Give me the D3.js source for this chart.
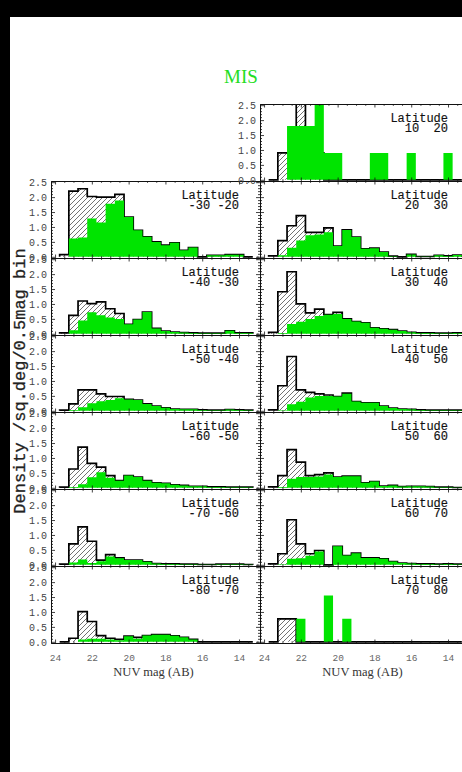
<!DOCTYPE html>
<html>
<head>
<meta charset="utf-8">
<script src="https://cdn.jsdelivr.net/npm/d3@7"></script>
<style>
  html, body { margin: 0; padding: 0; background: #fff; overflow: hidden; }
  svg { display: block; }
</style>
</head>
<body>
<svg id="chart" width="462" height="772"></svg>
<script>
// NUV magnitude bins (0.5 mag wide), bright end last
const magBins = [23.5, 23.0, 22.5, 22.0, 21.5, 21.0, 20.5, 20.0, 19.5, 19.0, 18.5,
                 18.0, 17.5, 17.0, 16.5, 16.0, 15.5, 15.0, 14.5, 14.0, 13.5];
const xTickLabels = [24, 22, 20, 18, 16, 14];
const yTickLabels = [0.0, 0.5, 1.0, 1.5, 2.0, 2.5];

// Southern latitude strips (left column)
const totS30 = [0.07, 2.20, 2.28, 2.02, 2.00, 2.00, 2.09, 1.33, 0.89, 0.67, 0.50, 0.39, 0.47, 0.22, 0.31, 0.00, 0.05, 0.05, 0.07, 0.07, 0.00];
const misS30 = [0.00, 0.61, 0.65, 1.28, 1.15, 1.78, 1.89, 1.33, 0.89, 0.67, 0.50, 0.39, 0.47, 0.22, 0.31, 0.00, 0.05, 0.05, 0.07, 0.07, 0.00];
const totS40 = [0.03, 0.62, 1.10, 1.01, 1.07, 0.84, 0.68, 0.32, 0.48, 0.73, 0.18, 0.09, 0.06, 0.04, 0.03, 0.02, 0.02, 0.02, 0.10, 0.03, 0.03];
const misS40 = [0.00, 0.12, 0.45, 0.72, 0.62, 0.55, 0.50, 0.32, 0.48, 0.73, 0.18, 0.09, 0.06, 0.04, 0.03, 0.02, 0.02, 0.02, 0.10, 0.03, 0.03];
const totS50 = [0.02, 0.23, 0.70, 0.70, 0.57, 0.48, 0.48, 0.38, 0.36, 0.23, 0.16, 0.10, 0.06, 0.05, 0.05, 0.03, 0.02, 0.02, 0.04, 0.03, 0.02];
const misS50 = [0.00, 0.03, 0.12, 0.25, 0.32, 0.36, 0.42, 0.38, 0.36, 0.23, 0.16, 0.10, 0.06, 0.05, 0.05, 0.03, 0.02, 0.02, 0.04, 0.03, 0.02];
const totS60 = [0.02, 0.63, 1.36, 0.82, 0.69, 0.41, 0.24, 0.41, 0.36, 0.24, 0.17, 0.15, 0.10, 0.08, 0.05, 0.05, 0.03, 0.03, 0.02, 0.02, 0.02];
const misS60 = [0.00, 0.03, 0.12, 0.35, 0.52, 0.34, 0.24, 0.41, 0.36, 0.24, 0.17, 0.15, 0.10, 0.08, 0.05, 0.05, 0.03, 0.03, 0.02, 0.02, 0.02];
const totS70 = [0.02, 0.70, 1.27, 0.79, 0.16, 0.34, 0.23, 0.16, 0.16, 0.10, 0.04, 0.03, 0.03, 0.02, 0.02, 0.01, 0.01, 0.02, 0.02, 0.02, 0.01];
const misS70 = [0.00, 0.08, 0.18, 0.06, 0.12, 0.28, 0.22, 0.16, 0.16, 0.10, 0.04, 0.03, 0.03, 0.02, 0.02, 0.01, 0.01, 0.02, 0.02, 0.02, 0.01];
const totS80 = [0.00, 0.12, 1.01, 0.68, 0.21, 0.12, 0.08, 0.19, 0.15, 0.21, 0.24, 0.24, 0.20, 0.15, 0.08, 0.00, 0.00, 0.00, 0.00, 0.00, 0.00];
const misS80 = [0.00, 0.00, 0.08, 0.10, 0.10, 0.08, 0.05, 0.19, 0.10, 0.21, 0.24, 0.24, 0.20, 0.15, 0.08, 0.00, 0.00, 0.00, 0.00, 0.00, 0.00];

// Northern latitude strips (right column)
const totN20 = [0.00, 0.90, 0.90, 2.70, 0.90, 0.90, 0.00, 0.00, 0.00, 0.00, 0.00, 0.00, 0.00, 0.00, 0.00, 0.00, 0.00, 0.00, 0.00, 0.00, 0.00];
const misN20 = [0.00, 0.00, 1.80, 1.80, 1.80, 2.70, 0.90, 0.90, 0.00, 0.00, 0.00, 0.90, 0.90, 0.00, 0.00, 0.90, 0.00, 0.00, 0.00, 0.90, 0.00];
const totN30 = [0.03, 0.54, 1.04, 1.38, 0.82, 0.82, 0.97, 0.36, 0.90, 0.66, 0.27, 0.29, 0.16, 0.02, 0.00, 0.08, 0.01, 0.01, 0.05, 0.03, 0.06];
const misN30 = [0.00, 0.05, 0.30, 0.55, 0.72, 0.75, 0.82, 0.36, 0.90, 0.66, 0.27, 0.29, 0.16, 0.02, 0.00, 0.08, 0.01, 0.01, 0.05, 0.03, 0.06];
const totN40 = [0.05, 1.41, 2.08, 1.00, 0.70, 0.83, 0.64, 0.72, 0.50, 0.41, 0.37, 0.20, 0.17, 0.14, 0.09, 0.05, 0.03, 0.03, 0.02, 0.02, 0.03];
const misN40 = [0.00, 0.03, 0.33, 0.40, 0.50, 0.60, 0.64, 0.66, 0.50, 0.41, 0.37, 0.20, 0.17, 0.14, 0.09, 0.05, 0.03, 0.03, 0.02, 0.02, 0.03];
const totN50 = [0.03, 0.84, 1.82, 0.70, 0.62, 0.57, 0.53, 0.48, 0.59, 0.31, 0.27, 0.27, 0.16, 0.09, 0.06, 0.05, 0.03, 0.02, 0.02, 0.02, 0.02];
const misN50 = [0.00, 0.02, 0.22, 0.30, 0.45, 0.50, 0.50, 0.48, 0.57, 0.31, 0.27, 0.27, 0.16, 0.09, 0.06, 0.05, 0.03, 0.02, 0.02, 0.02, 0.02];
const totN60 = [0.03, 0.41, 1.28, 0.86, 0.41, 0.44, 0.50, 0.36, 0.39, 0.39, 0.17, 0.21, 0.06, 0.08, 0.04, 0.05, 0.05, 0.04, 0.02, 0.02, 0.01];
const misN60 = [0.00, 0.03, 0.30, 0.36, 0.36, 0.38, 0.45, 0.36, 0.39, 0.39, 0.17, 0.21, 0.06, 0.08, 0.04, 0.05, 0.05, 0.04, 0.02, 0.02, 0.01];
const totN70 = [0.03, 0.37, 1.51, 0.70, 0.37, 0.48, 0.00, 0.62, 0.31, 0.39, 0.23, 0.23, 0.20, 0.11, 0.06, 0.04, 0.03, 0.03, 0.02, 0.03, 0.02];
const misN70 = [0.00, 0.02, 0.20, 0.22, 0.30, 0.45, 0.00, 0.62, 0.31, 0.39, 0.23, 0.23, 0.20, 0.11, 0.06, 0.04, 0.03, 0.03, 0.02, 0.03, 0.02];
const totN80 = [0.00, 0.77, 0.77, 0.00, 0.00, 0.00, 0.00, 0.00, 0.00, 0.00, 0.00, 0.00, 0.00, 0.00, 0.00, 0.00, 0.00, 0.00, 0.00, 0.00, 0.00];
const misN80 = [0.00, 0.00, 0.00, 0.77, 0.00, 0.00, 1.55, 0.00, 0.77, 0.00, 0.00, 0.00, 0.00, 0.00, 0.00, 0.00, 0.00, 0.00, 0.00, 0.00, 0.00];

// Panel table: column, row, latitude range and the two histograms
const panels = [
  { col: 0, row: 1, lat: [-30, -20], tot: totS30, mis: misS30 },
  { col: 0, row: 2, lat: [-40, -30], tot: totS40, mis: misS40 },
  { col: 0, row: 3, lat: [-50, -40], tot: totS50, mis: misS50 },
  { col: 0, row: 4, lat: [-60, -50], tot: totS60, mis: misS60 },
  { col: 0, row: 5, lat: [-70, -60], tot: totS70, mis: misS70 },
  { col: 0, row: 6, lat: [-80, -70], tot: totS80, mis: misS80 },
  { col: 1, row: 0, lat: [10, 20], tot: totN20, mis: misN20 },
  { col: 1, row: 1, lat: [20, 30], tot: totN30, mis: misN30 },
  { col: 1, row: 2, lat: [30, 40], tot: totN40, mis: misN40 },
  { col: 1, row: 3, lat: [40, 50], tot: totN50, mis: misN50 },
  { col: 1, row: 4, lat: [50, 60], tot: totN60, mis: misN60 },
  { col: 1, row: 5, lat: [60, 70], tot: totN70, mis: misN70 },
  { col: 1, row: 6, lat: [70, 80], tot: totN80, mis: misN80 }
];

// Layout
const colLeft = [51, 260];
const colW = 209;
const top0 = 104;
const panelH = 77;
const lastRow = 6;
const GREEN = "#00e400";
const MONO = "'Liberation Mono', 'DejaVu Sans Mono', monospace";
const SERIF = "'Liberation Serif', 'DejaVu Serif', serif";

const svg = d3.select("#chart");
svg.append("rect").attr("width", 462).attr("height", 772).attr("fill", "#fff");

const defs = svg.append("defs");
const pat = defs.append("pattern")
  .attr("id", "hatch").attr("patternUnits", "userSpaceOnUse")
  .attr("width", 5).attr("height", 5);
pat.append("path")
  .attr("d", "M-1,1 L1,-1 M0,5 L5,0 M4,6 L6,4")
  .attr("stroke", "#444").attr("stroke-width", 0.75);

// Black frame strips along top and left
svg.append("rect").attr("x", 0).attr("y", 0).attr("width", 462).attr("height", 17).attr("fill", "#000");
svg.append("rect").attr("x", 0).attr("y", 0).attr("width", 10).attr("height", 772).attr("fill", "#000");

const minorX = d3.range(13, 24.01, 0.5).filter(v => v % 2 !== 0);
const minorY = d3.range(0, 2.55, 0.1).filter(v => Math.abs(v * 2 - Math.round(v * 2)) > 1e-6);

function stepPoints(vals) {
  const pts = [];
  magBins.forEach((c, i) => {
    pts.push([c + 0.25, vals[i]]);
    pts.push([c - 0.25, vals[i]]);
  });
  return pts;
}

const fmtLat = v => String(v).padStart(4, " ");

panels.forEach((p, idx) => {
  const x0 = colLeft[p.col];
  const top = top0 + p.row * panelH;
  const x = d3.scaleLinear().domain([24.22, 12.86]).range([x0, x0 + colW]);
  const y = d3.scaleLinear().domain([-0.04, 2.54]).range([top + panelH, top]);

  const clipId = "clip" + idx;
  defs.append("clipPath").attr("id", clipId)
    .append("rect").attr("x", x0).attr("y", top).attr("width", colW).attr("height", panelH);

  const g = svg.append("g").attr("clip-path", `url(#${clipId})`);

  const area = d3.area().x(d => x(d[0])).y0(y(0)).y1(d => y(d[1]));
  const totPts = stepPoints(p.tot);
  const misPts = stepPoints(p.mis);

  // hatched total, its outline, then the green subset on top
  g.append("path").attr("d", area(totPts)).attr("fill", "url(#hatch)");

  const outline = [[magBins[0] + 0.25, 0], ...totPts, [magBins[magBins.length - 1] - 0.25, 0]];
  g.append("path")
    .attr("d", d3.line().x(d => x(d[0])).y(d => y(d[1]))(outline))
    .attr("fill", "none").attr("stroke", "#000").attr("stroke-width", 1.7)
    .attr("stroke-linejoin", "miter");

  g.append("path").attr("d", area(misPts)).attr("fill", GREEN);

  // Axes on all four sides, ticks pointing inward
  const showX = p.row === lastRow;
  const showY = p.col === 0 || p.row === 0;

  const styleAxis = (sel) => {
    sel.select(".domain").attr("stroke", "#111").attr("stroke-width", 1);
    sel.selectAll(".tick line").attr("stroke", "#111").attr("stroke-width", 0.8);
  };

  const bx = svg.append("g").attr("transform", `translate(0,${top + panelH})`)
    .call(d3.axisBottom(x).tickValues(xTickLabels).tickSize(-3.5).tickSizeOuter(0)
      .tickPadding(11.5).tickFormat(showX ? d3.format("d") : () => ""));
  bx.call(styleAxis);
  bx.selectAll("text").attr("font-family", MONO).attr("font-size", 9.5).attr("fill", "#666");
  svg.append("g").attr("transform", `translate(0,${top + panelH})`)
    .call(d3.axisBottom(x).tickValues(minorX).tickSize(-1.8).tickSizeOuter(0).tickFormat(() => ""))
    .call(styleAxis);

  svg.append("g").attr("transform", `translate(0,${top})`)
    .call(d3.axisTop(x).tickValues(xTickLabels).tickSize(-3.5).tickSizeOuter(0).tickFormat(() => ""))
    .call(styleAxis);
  svg.append("g").attr("transform", `translate(0,${top})`)
    .call(d3.axisTop(x).tickValues(minorX).tickSize(-1.8).tickSizeOuter(0).tickFormat(() => ""))
    .call(styleAxis);

  const ly = svg.append("g").attr("transform", `translate(${x0},0)`)
    .call(d3.axisLeft(y).tickValues(yTickLabels).tickSize(-4).tickSizeOuter(0)
      .tickPadding(4).tickFormat(showY ? d3.format(".1f") : () => ""));
  ly.call(styleAxis);
  ly.selectAll("text").attr("font-family", MONO).attr("font-size", 10).attr("fill", "#444");
  svg.append("g").attr("transform", `translate(${x0},0)`)
    .call(d3.axisLeft(y).tickValues(minorY).tickSize(-2).tickSizeOuter(0).tickFormat(() => ""))
    .call(styleAxis);

  svg.append("g").attr("transform", `translate(${x0 + colW},0)`)
    .call(d3.axisRight(y).tickValues(yTickLabels).tickSize(-4).tickSizeOuter(0).tickFormat(() => ""))
    .call(styleAxis);
  svg.append("g").attr("transform", `translate(${x0 + colW},0)`)
    .call(d3.axisRight(y).tickValues(minorY).tickSize(-2).tickSizeOuter(0).tickFormat(() => ""))
    .call(styleAxis);

  // Latitude label
  const lx = x0 + 188;
  svg.append("text").attr("x", lx).attr("y", top + 18)
    .attr("text-anchor", "end").attr("font-family", MONO).attr("font-size", 12)
    .attr("fill", "#111").attr("stroke", "#111").attr("stroke-width", 0.15)
    .text("Latitude");
  svg.append("text").attr("x", lx).attr("y", top + 28)
    .attr("text-anchor", "end").attr("font-family", MONO).attr("font-size", 12)
    .attr("fill", "#111").attr("stroke", "#111").attr("stroke-width", 0.15)
    .attr("xml:space", "preserve").style("white-space", "pre")
    .text((fmtLat(p.lat[0]) + fmtLat(p.lat[1])).trimStart());

  if (showX) {
    svg.append("text").attr("x", x0 + colW / 2 - 2).attr("y", top + panelH + 33)
      .attr("text-anchor", "middle").attr("font-family", SERIF).attr("font-size", 12.5)
      .attr("fill", "#333").text("NUV mag (AB)");
  }
});

// Y-axis title
svg.append("text")
  .attr("transform", "translate(25,381) rotate(-90)")
  .attr("text-anchor", "middle").attr("font-family", MONO).attr("font-size", 17)
  .attr("fill", "#222").attr("stroke", "#222").attr("stroke-width", 0.3)
  .text("Density /sq.deg/0.5mag bin");

// Survey title
svg.append("text").attr("x", 241).attr("y", 83)
  .attr("text-anchor", "middle").attr("font-family", SERIF).attr("font-size", 19)
  .attr("fill", "#22dd22").text("MIS");
</script>
</body>
</html>
